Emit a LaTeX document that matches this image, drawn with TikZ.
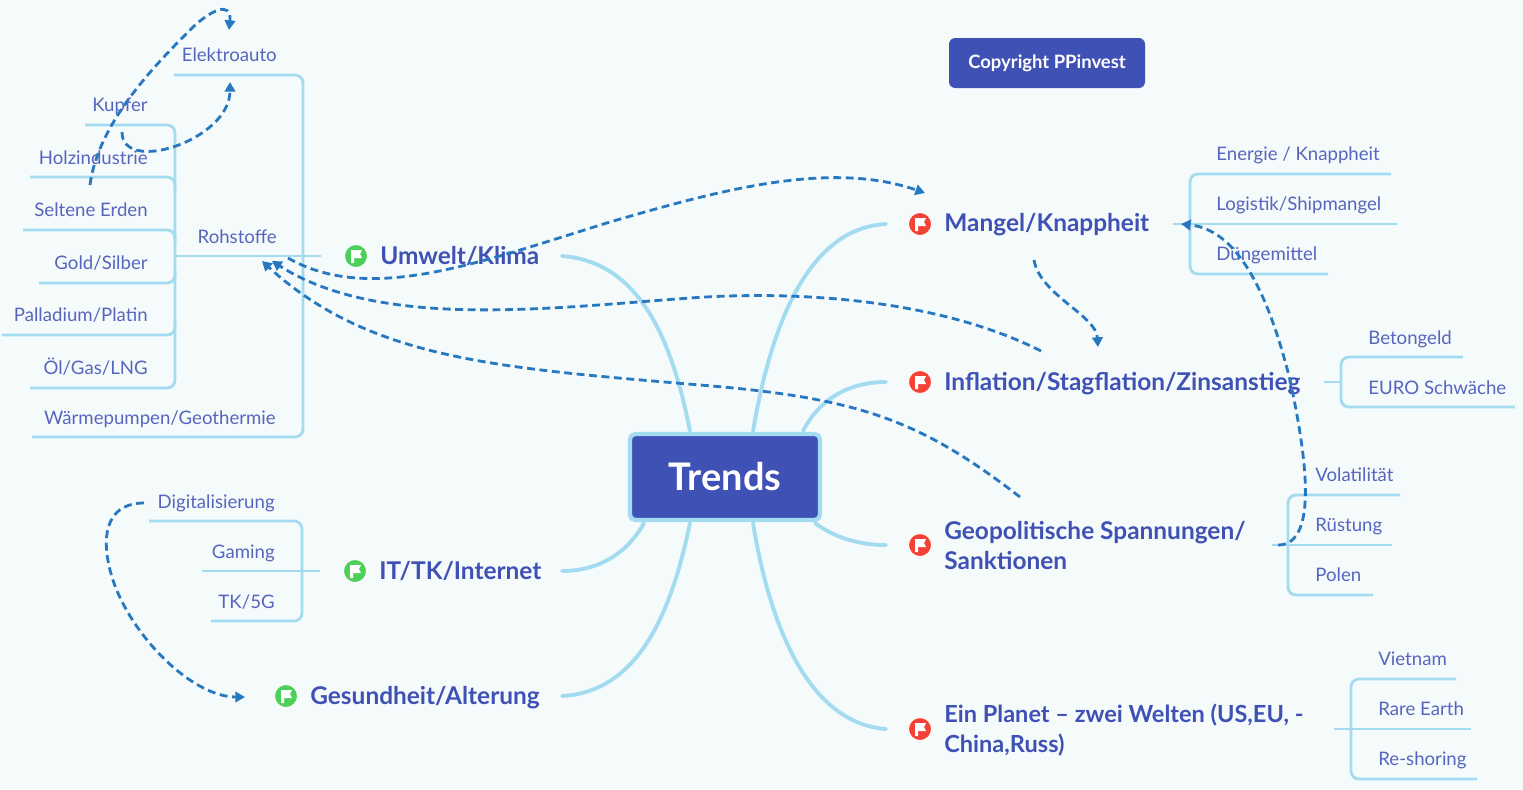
\documentclass[tikz,border=0pt]{standalone}
\usepackage{fontspec}
\usepackage{xcolor}
\setmainfont{Lato}
\usetikzlibrary{shapes.geometric, arrows, arrows.meta, positioning, calc}
\definecolor{pageback}{HTML}{F5FAFB}
\definecolor{indigo}{HTML}{3F51B5}
\definecolor{skyline}{HTML}{A3DBF0}
\definecolor{relblue}{HTML}{2878C0}
\definecolor{flaggreen}{HTML}{4CD05A}
\definecolor{flagred}{HTML}{F44336}
\tikzstyle{rootbox} = [rectangle, rounded corners=3pt, minimum width=3.8cm, minimum height=1.72cm, draw=skyline, line width=2.4pt, fill=indigo, text=white, font=\fontsize{21.6}{24}\selectfont\bfseries]
\tikzstyle{stamp} = [rectangle, rounded corners=3.5pt, minimum width=3.92cm, minimum height=1cm, fill=indigo, text=white, font=\fontsize{10.5}{12}\selectfont\bfseries]
\tikzstyle{topic} = [anchor=mid west, inner sep=0pt, text=indigo, align=left, font=\fontsize{13.9}{17}\selectfont\bfseries]
\tikzstyle{leafl} = [anchor=mid west, inner sep=0pt, text=indigo!88, font=\fontsize{10.6}{12}\selectfont]
\tikzstyle{leafr} = [anchor=mid east, inner sep=0pt, text=indigo!88, font=\fontsize{10.6}{12}\selectfont]
\tikzstyle{flagdot} = [circle, inner sep=0pt, minimum size=0.46cm, draw=white, line width=0.5pt, path picture={\fill[white, shift={(path picture bounding box.center)}] (-5,-6) -- (6,-6) -- (4,-2) -- (6,2) -- (-2,2) -- (-2,7) -- (-5,7) -- cycle;}]
\tikzstyle{limb} = [skyline, line width=2.2pt, line cap=round]
\tikzstyle{twig} = [skyline, line width=1.6pt, rounded corners=4.5pt]
\tikzstyle{relation} = [relblue, line width=1.6pt, dash pattern=on 4.5pt off 2.6pt, -{Triangle[length=5.5pt,width=6pt]}]

\begin{document}
\begin{tikzpicture}[x=0.02cm, y=-0.02cm]
    \useasboundingbox [fill=pageback] (0,0) rectangle (1523,789);

    % Limbs from the centre
    \coordinate (umweltend) at (562,256);
    \coordinate (ittkend) at (562,571);
    \coordinate (gesundend) at (562,696);
    \coordinate (mangelend) at (886,224);
    \coordinate (inflationend) at (886,382);
    \coordinate (geoend) at (886,545);
    \coordinate (planetend) at (886,729);
    \draw [limb] (690,431) .. controls (672,340) and (640,262) .. (umweltend);
    \draw [limb] (644,523) .. controls (628,552) and (600,571) .. (ittkend);
    \draw [limb] (690,523) .. controls (670,620) and (635,692) .. (gesundend);
    \draw [limb] (753,431) .. controls (772,320) and (810,228) .. (mangelend);
    \draw [limb] (803,431) .. controls (820,398) and (850,382) .. (inflationend);
    \draw [limb] (815,523) .. controls (835,538) and (860,545) .. (geoend);
    \draw [limb] (753,523) .. controls (772,640) and (815,724) .. (planetend);

    % Centre and stamp
    \node (root) [rootbox] at (725,477) {Trends};
    \node (stamp) [stamp] at (1047,63) {Copyright PPinvest};

    % Topics
    \node (umwelt) [topic] at (380,260) {Umwelt/Klima};
    \node (ittk) [topic] at (379,575) {IT/TK/Internet};
    \node (gesund) [topic] at (310,700) {Gesundheit/Alterung};
    \node (mangel) [topic] at (944,227) {Mangel/Knappheit};
    \node (inflation) [topic] at (944,386) {Inflation/Stagflation/Zinsanstieg};
    \node (geo) [topic] at (944,565) {Geopolitische Spannungen/\\Sanktionen};
    \node (planet) [topic, font=\fontsize{13.4}{17}\selectfont\bfseries] at (944,748) {Ein Planet -- zwei Welten (US,EU, -\\China,Russ)};

    % Flags
    \node (umweltflag) [flagdot, fill=flaggreen] at (356,256) {};
    \node (ittkflag) [flagdot, fill=flaggreen] at (355,571) {};
    \node (gesundflag) [flagdot, fill=flaggreen] at (286,696) {};
    \node (mangelflag) [flagdot, fill=flagred] at (920,224) {};
    \node (inflationflag) [flagdot, fill=flagred] at (920,382) {};
    \node (geoflag) [flagdot, fill=flagred] at (920,545) {};
    \node (planetflag) [flagdot, fill=flagred] at (920,729) {};

    % Left leaves
    \node (elektro) [leafr] at (277,57) {Elektroauto};
    \node (rohstoffe) [leafr] at (277,239) {Rohstoffe};
    \node (waerme) [leafr] at (276,420) {Wärmepumpen/Geothermie};
    \node (kupfer) [leafr] at (148,107) {Kupfer};
    \node (holz) [leafr] at (148,160) {Holzindustrie};
    \node (selten) [leafr] at (148,212) {Seltene Erden};
    \node (gold) [leafr] at (148,265) {Gold/Silber};
    \node (palladium) [leafr] at (148,317) {Palladium/Platin};
    \node (oel) [leafr] at (148,370) {Öl/Gas/LNG};
    \node (digital) [leafr] at (275,504) {Digitalisierung};
    \node (gaming) [leafr] at (275,554) {Gaming};
    \node (tkfive) [leafr] at (275,604) {TK/5G};

    % Right leaves
    \node (energie) [leafl] at (1216,156) {Energie / Knappheit};
    \node (logistik) [leafl] at (1216,206) {Logistik/Shipmangel};
    \node (duenger) [leafl] at (1216,256) {Düngemittel};
    \node (beton) [leafl] at (1368,340) {Betongeld};
    \node (euro) [leafl] at (1368,390) {EURO Schwäche};
    \node (volat) [leafl] at (1315,477) {Volatilität};
    \node (ruestung) [leafl] at (1315,527) {Rüstung};
    \node (polen) [leafl] at (1315,577) {Polen};
    \node (vietnam) [leafl] at (1378,661) {Vietnam};
    \node (rare) [leafl] at (1378,711) {Rare Earth};
    \node (reshore) [leafl] at (1378,761) {Re-shoring};

    % Rohstoffe bracket
    \coordinate (rohstub) at (321,256);
    \coordinate (rohjoin) at (175,256);
    \draw [twig] (rohjoin) -- (rohstub);
    \draw [twig] (174,75) -- (303,75) -- (303,437) -- (32,437);
    \draw [twig] (85,125) -- (175,125) -- (175,388) -- (30,388);
    \draw [twig] (30,177) -- (175,177) -- (175,190);
    \draw [twig] (23,230) -- (175,230) -- (175,243);
    \draw [twig] (39,283) -- (175,283) -- (175,270);
    \draw [twig] (2,335) -- (175,335) -- (175,322);

    % IT bracket
    \draw [twig] (202,571) -- (320,571);
    \draw [twig] (149,521) -- (302,521) -- (302,621) -- (211,621);

    % Right brackets
    \draw [twig] (1173,224) -- (1397,224);
    \draw [twig] (1391,174) -- (1190,174) -- (1190,274) -- (1328,274);
    \draw [twig] (1324,382) -- (1341,382);
    \draw [twig] (1463,357) -- (1341,357) -- (1341,407) -- (1515,407);
    \draw [twig] (1272,545) -- (1392,545);
    \draw [twig] (1400,495) -- (1288,495) -- (1288,595) -- (1373,595);
    \draw [twig] (1334,729) -- (1471,729);
    \draw [twig] (1456,679) -- (1351,679) -- (1351,779) -- (1477,779);

    % Relations
    \coordinate (autotop) at (229,30);
    \coordinate (autolow) at (230,82);
    \coordinate (rohtipa) at (272,261);
    \coordinate (rohtipb) at (262,261);
    \coordinate (mangeltip) at (925,193);
    \coordinate (mangelside) at (1181,224);
    \coordinate (inflationtip) at (1098,347);
    \coordinate (gesundtip) at (245,697);
    \draw [relation] (90,185) .. controls (98,125) and (150,70) .. (190,30) .. controls (210,10) and (232,0) .. (autotop);
    \draw [relation] (122,132) .. controls (122,175) and (230,140) .. (autolow);
    \draw [relation] (288,258) .. controls (370,305) and (480,262) .. (610,222) .. controls (720,190) and (830,160) .. (mangeltip);
    \draw [relation] (1041,351) .. controls (940,300) and (800,290) .. (690,298) .. controls (550,308) and (380,330) .. (rohtipa);
    \draw [relation] (1020,497) .. controls (920,420) and (860,398) .. (700,385) .. controls (500,368) and (370,360) .. (rohtipb);
    \draw [relation] (1034,260) .. controls (1040,295) and (1096,315) .. (inflationtip);
    \draw [relation] (1278,545) .. controls (1320,545) and (1305,450) .. (1290,380) .. controls (1270,300) and (1240,230) .. (mangelside);
    \draw [relation] (144,503) .. controls (110,503) and (100,530) .. (110,570) .. controls (125,630) and (190,697) .. (gesundtip);
\end{tikzpicture}
\end{document}
